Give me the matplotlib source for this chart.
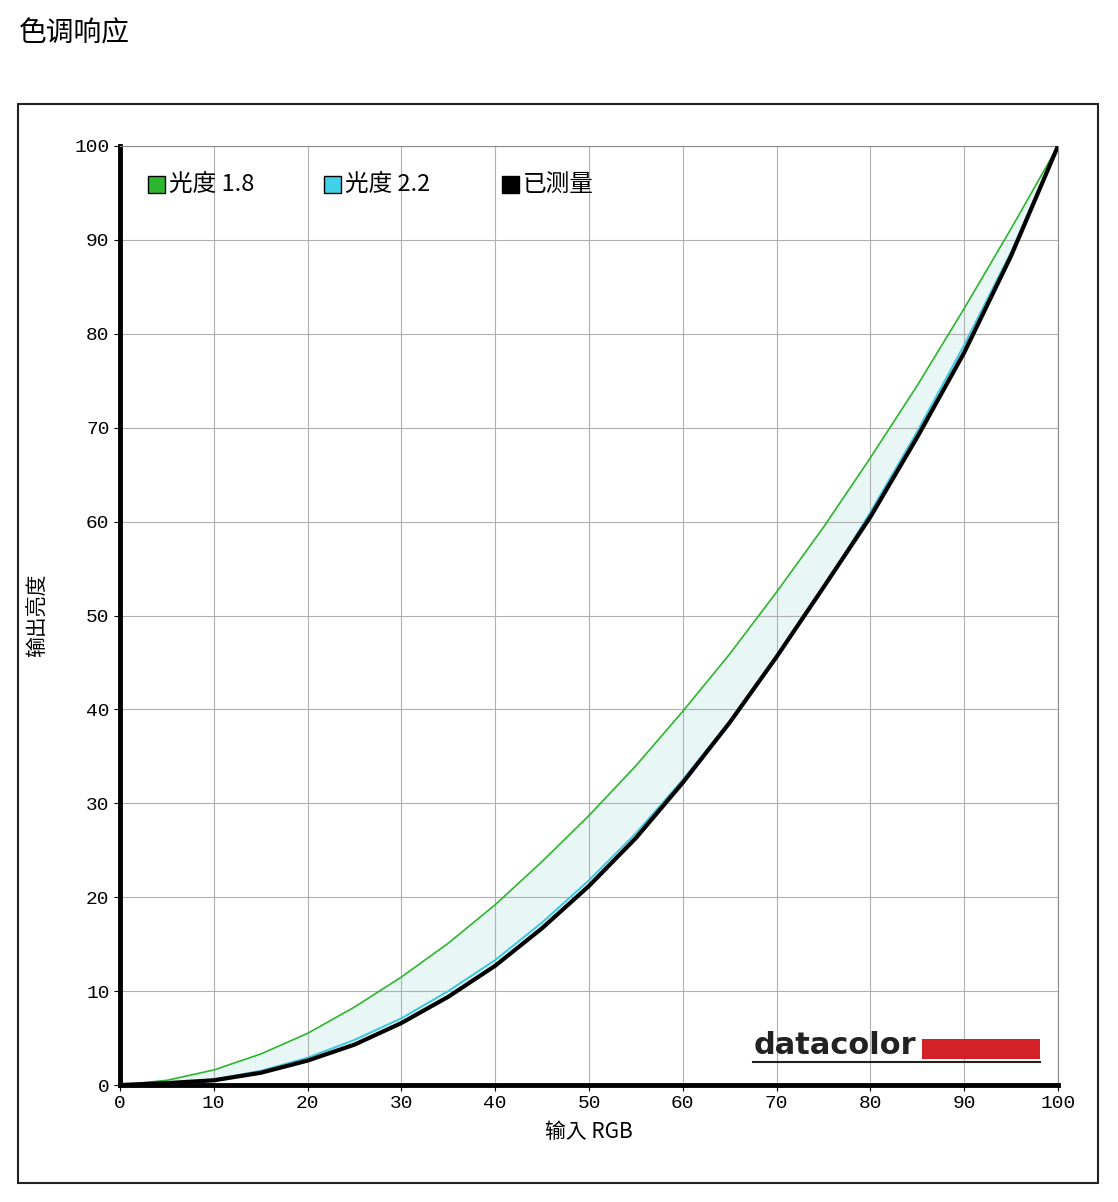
import matplotlib.pyplot as plt
from matplotlib import font_manager
from matplotlib.patches import Rectangle

# pick whichever CJK family is actually registered
names = sorted({f.name for f in font_manager.fontManager.ttflist})
cjk_names = [n for n in names if 'CJK' in n]
for pref in ['Noto Sans CJK SC', 'Noto Sans CJK JP']:
    if pref in cjk_names:
        cjk = pref
        break
else:
    cjk = cjk_names[0] if cjk_names else 'DejaVu Sans'
mono = 'Liberation Mono'

x_in = [0, 5, 10, 15, 20, 25, 30, 35, 40, 45, 50, 55, 60, 65, 70, 75, 80, 85, 90, 95, 100]
gamma18 = [0, 0.5, 1.6, 3.3, 5.5, 8.3, 11.5, 15.1, 19.2, 23.8, 28.7, 34, 39.8, 45.9, 52.5, 59.4, 66.8, 74.5, 82.7, 91.2, 100]
gamma22 = [0, 0.1, 0.6, 1.5, 2.9, 4.8, 7.1, 10, 13.3, 17.3, 21.8, 26.8, 32.5, 38.7, 45.5, 52.9, 61, 69.6, 78.8, 88.7, 100]
measured = [0, 0.2, 0.5, 1.3, 2.6, 4.3, 6.6, 9.4, 12.7, 16.7, 21.2, 26.3, 32.2, 38.6, 45.6, 53, 60.5, 69, 78, 88.3, 100]
ticks = [0, 10, 20, 30, 40, 50, 60, 70, 80, 90, 100]
legend_labels = ['光度 1.8', '光度 2.2', '已测量']

W, H = 1118, 1202
fig = plt.figure(figsize=(W / 100, H / 100), dpi=100)
fig.text(18 / W, 1 - 33 / H, '色调响应', fontfamily=cjk, fontsize=20, va='center')

# outer frame
fig.patches.append(Rectangle((18 / W, 1 - 1183 / H), 1080 / W, 1079 / H,
                             transform=fig.transFigure, fill=False, lw=1.5, ec='#222222'))

ax = fig.add_axes([120 / W, 1 - 1085 / H, 938 / W, 939 / H])
ax.fill_between(x_in, gamma18, gamma22, color='#e8f6f6', zorder=1)
ax.plot(x_in, gamma18, color='#2db52d', lw=1.2, zorder=3)
ax.plot(x_in, gamma22, color='#40c8e0', lw=1.5, zorder=3)
ax.plot(x_in, measured, color='black', lw=3, zorder=4)
ax.set_xlim(0, 100)
ax.set_ylim(0, 100)
ax.set_xticks(ticks)
ax.set_yticks(ticks)
ax.grid(color='#b0b0b0', lw=0.8)
ax.tick_params(length=4, labelsize=14)
for lab in ax.get_xticklabels() + ax.get_yticklabels():
    lab.set_fontfamily(mono)
for side in ['left', 'bottom']:
    ax.spines[side].set_linewidth(3.5)
for side in ['top', 'right']:
    ax.spines[side].set_linewidth(0.8)
    ax.spines[side].set_color('#888888')
ax.set_xlabel('输入 RGB', fontfamily=[cjk, mono], fontsize=15, labelpad=6)
ax.set_ylabel('输出亮度', fontfamily=cjk, fontsize=15, labelpad=18)

# legend boxes
for xpos, col, lab in zip([3, 21.8, 40.7], ['#2db52d', '#40d0e8', 'black'], legend_labels):
    ax.add_patch(Rectangle((xpos, 95.0), 1.8, 1.8, fc=col, ec='black', lw=1, zorder=5))
    ax.text(xpos + 2.2, 95.9, lab, fontfamily=[cjk, mono], fontsize=17, va='center', zorder=5)

# datacolor logo
ax.text(67.5, 4.2, 'datacolor', fontfamily='DejaVu Sans', fontweight='bold',
        fontsize=22, va='center', color='#222222', zorder=5)
ax.add_patch(Rectangle((85.5, 2.8), 12.6, 2.1, fc='#d42027', zorder=5))
ax.plot([67.5, 98.1], [2.4, 2.4], color='#222222', lw=1.5, zorder=5)

fig.savefig('out.png', dpi=100, facecolor='white')
